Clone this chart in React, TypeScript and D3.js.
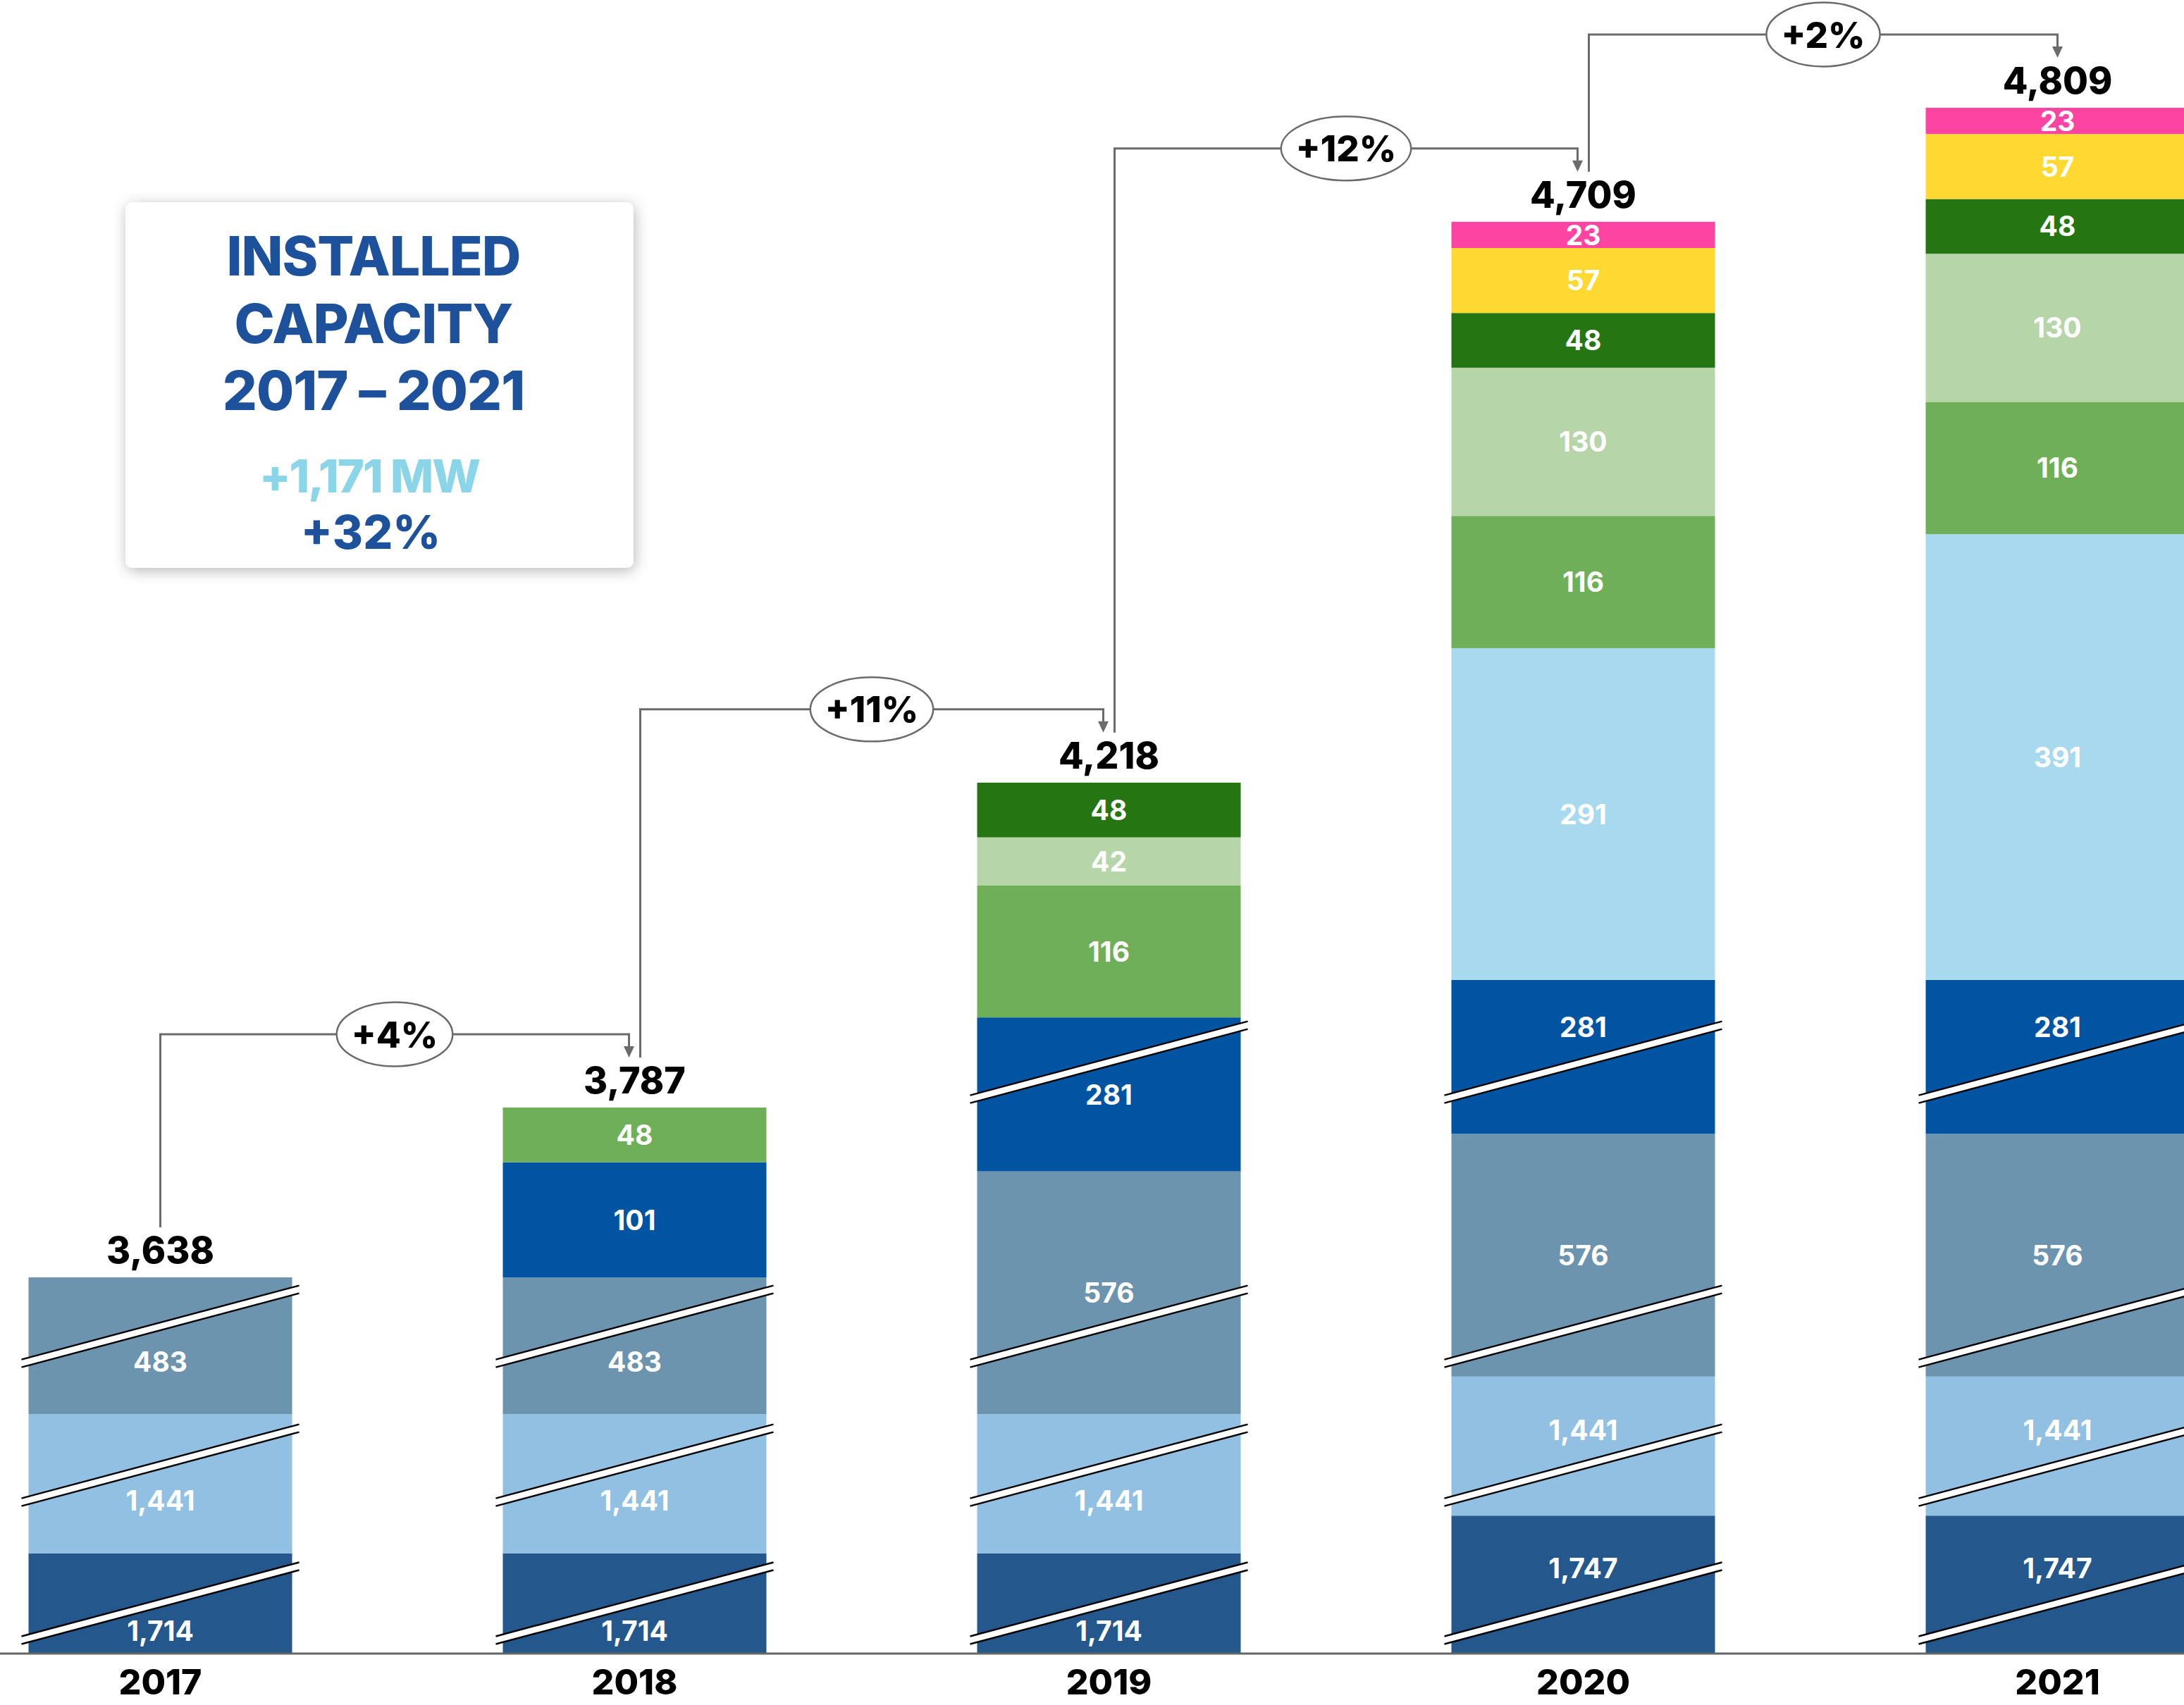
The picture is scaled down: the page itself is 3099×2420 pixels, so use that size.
import React from 'react';
import * as d3 from 'd3';

// ---------------- DATA ----------------
const YEARS = ['2017', '2018', '2019', '2020', '2021'];
const TOTAL_LABELS = ['3,638', '3,787', '4,218', '4,709', '4,809'];
const GROWTH_LABELS = ['+4%', '+11%', '+12%', '+2%'];

// stacked series, bottom to top (MW)
const SERIES_KEYS = ['s1', 's2', 's3', 's4', 's5', 's6', 's7', 's8', 's9', 's10'];
const S1_VALUES = [1714, 1714, 1714, 1747, 1747];
const S2_VALUES = [1441, 1441, 1441, 1441, 1441];
const S3_VALUES = [483, 483, 576, 576, 576];
const S4_VALUES = [0, 101, 281, 281, 281];
const S5_VALUES = [0, 0, 0, 291, 391];
const S6_VALUES = [0, 48, 116, 116, 116];
const S7_VALUES = [0, 0, 42, 130, 130];
const S8_VALUES = [0, 0, 48, 48, 48];
const S9_VALUES = [0, 0, 0, 57, 57];
const S10_VALUES = [0, 0, 0, 23, 23];

// MW removed from each segment by its axis break (0 = no break)
const S1_CUT = [1626, 1626, 1626, 1626, 1626];
const S2_CUT = [1319, 1319, 1319, 1319, 1319];
const S3_CUT = [363, 363, 363, 363, 363];
const S4_CUT = [0, 0, 146, 146, 146];

// level (on the compressed scale, MW) where each series' break mark sits
const S1_BREAK_LEVEL = 44.2;
const S2_BREAK_LEVEL = 165.3;
const S3_BREAK_LEVEL = 287;
const S4_BREAK_LEVEL = 518.8;

const INFO_TITLE = ['INSTALLED', 'CAPACITY', '2017 – 2021'];
const INFO_DELTA_MW = '+1,171 MW';
const INFO_DELTA_PCT = '+32%';

// ---------------- STYLE ----------------
const COLORS = ['#24578b', '#91c0e2', '#6c94ae', '#0054a1', '#a9d9ee', '#6faf57', '#b6d5a9', '#257612', '#fed932', '#fe44a2'];
const FONT = "Inter, 'Noto Sans', 'DejaVu Sans', sans-serif";
const W = 3099;
const H = 2420;
const BASE_Y = 2347;
const PX_PER_MW = 1.618;

const valuesList = [S1_VALUES, S2_VALUES, S3_VALUES, S4_VALUES, S5_VALUES, S6_VALUES, S7_VALUES, S8_VALUES, S9_VALUES, S10_VALUES];
const zeros = [0, 0, 0, 0, 0];
const cutsList = [S1_CUT, S2_CUT, S3_CUT, S4_CUT, zeros, zeros, zeros, zeros, zeros, zeros];
const breakLevels: (number | null)[] = [S1_BREAK_LEVEL, S2_BREAK_LEVEL, S3_BREAK_LEVEL, S4_BREAK_LEVEL, null, null, null, null, null, null];

let measureCtx: CanvasRenderingContext2D | null = null;
function textWidth(text: string, font: string): number {
  if (!measureCtx) {
    const c = document.createElement('canvas');
    measureCtx = c.getContext('2d');
  }
  if (!measureCtx) return text.length * 30;
  measureCtx.font = font;
  return measureCtx.measureText(text).width;
}

function labelCenter(top: number, bottom: number, lineY: number | null): number {
  const c = (top + bottom) / 2;
  if (lineY == null || Math.abs(c - lineY) >= 40) return c;
  const above = lineY - top;
  const below = bottom - lineY;
  if (below >= 0.9 * above) return Math.min(lineY + 50, bottom - 32);
  return Math.max(lineY - 50, top + 32);
}

export default function App() {
  const x = d3.scaleBand<string>().domain(YEARS).range([40.5, 3106.5]).paddingInner(299 / 673).paddingOuter(0);
  const y = d3.scaleLinear().domain([0, 1400]).range([BASE_Y, BASE_Y - 1400 * PX_PER_MW]);
  const bw = x.bandwidth();

  // compressed table
  const table = YEARS.map((yr, i) => {
    const row: any = { year: yr };
    SERIES_KEYS.forEach((k, si) => {
      row[k] = valuesList[si][i] - cutsList[si][i];
    });
    return row;
  });
  const stack = d3.stack<any>().keys(SERIES_KEYS);
  const stacked = stack(table);

  const tops = YEARS.map((_, i) => y(stacked[stacked.length - 1][i][1]));
  const centers = YEARS.map((yr) => (x(yr) as number) + bw / 2);

  const segLabelFs = 39;
  const segEls: React.ReactNode[] = [];
  const breakEls: React.ReactNode[] = [];
  const labelEls: React.ReactNode[] = [];

  stacked.forEach((layer, si) => {
    layer.forEach((d, i) => {
      const v = valuesList[si][i];
      if (!v) return;
      const x0 = x(YEARS[i]) as number;
      const top = y(d[1]);
      const bottom = y(d[0]);
      segEls.push(
        <rect key={`r${si}-${i}`} x={x0} y={top} width={bw} height={bottom - top} fill={COLORS[si]} />
      );
      let lineY: number | null = null;
      if (cutsList[si][i] > 0 && breakLevels[si] != null) {
        lineY = y(breakLevels[si] as number);
        const xl = x0 - 10;
        const xr = x0 + bw + 10;
        const dy = 52.5;
        const half = 5.5;
        const yl = lineY + dy;
        const yr = lineY - dy;
        breakEls.push(
          <g key={`b${si}-${i}`}>
            <polygon points={`${xl},${yl - half} ${xr},${yr - half} ${xr},${yr + half} ${xl},${yl + half}`} fill="#ffffff" />
            <line x1={xl} y1={yl - half} x2={xr} y2={yr - half} stroke="#000" strokeWidth={2.4} />
            <line x1={xl} y1={yl + half} x2={xr} y2={yr + half} stroke="#000" strokeWidth={2.4} />
          </g>
        );
      }
      const cy = labelCenter(top, bottom, lineY);
      labelEls.push(
        <text key={`t${si}-${i}`} x={x0 + bw / 2} y={cy + 0.364 * segLabelFs} textAnchor="middle" fill="#ffffff"
          fontFamily={FONT} fontWeight={700} fontSize={segLabelFs}>
          {d3.format(',')(v)}
        </text>
      );
    });
  });

  // connectors
  const pctFs = 51;
  const n = YEARS.length;
  const connEls = GROWTH_LABELS.map((lab, i) => {
    const src = i;
    const dst = i + 1;
    const sx = centers[src] + (src > 0 ? 8 : 0);
    const dx = centers[dst] - (dst < n - 1 ? 8 : 0);
    const sy = tops[src] - 71;
    const tip = tops[dst] - 71;
    const hy = tops[dst] - 104;
    const mx = (sx + dx) / 2;
    const tw = textWidth(lab, `800 ${pctFs}px ${FONT}`);
    const rx = tw / 2 + 21;
    return (
      <g key={`c${i}`}>
        <path d={`M${sx},${sy} V${hy} H${dx} V${tip - 15}`} fill="none" stroke="#6b6b6b" strokeWidth={3} />
        <polygon points={`${dx - 7.5},${tip - 16} ${dx + 7.5},${tip - 16} ${dx},${tip}`} fill="#6b6b6b" />
        <ellipse cx={mx} cy={hy} rx={rx} ry={45.5} fill="#ffffff" stroke="#6b6b6b" strokeWidth={2.5} />
        <text x={mx} y={hy + 0.364 * pctFs} textAnchor="middle" fontFamily={FONT} fontWeight={800} fontSize={pctFs} fill="#000">
          {lab}
        </text>
      </g>
    );
  });

  const totalEls = YEARS.map((yr, i) => (
    <text key={`tot${i}`} x={centers[i]} y={tops[i] - 20} textAnchor="middle" fontFamily={FONT} fontWeight={800} fontSize={52} fill="#000">
      {TOTAL_LABELS[i]}
    </text>
  ));

  const yearEls = YEARS.map((yr, i) => (
    <text key={`yr${i}`} x={centers[i]} y={2405} textAnchor="middle" fontFamily={FONT} fontWeight={800} fontSize={50} fill="#000">
      {yr}
    </text>
  ));

  const boxX = 178, boxY = 287, boxW = 721, boxH = 519;
  const boxCx = 530;

  return (
    <svg width={W} height={H} viewBox={`0 0 ${W} ${H}`} style={{ position: 'absolute', left: 0, top: 0, background: '#fff' }}>
      <defs>
        <filter id="shadow" x="-10%" y="-10%" width="120%" height="120%">
          <feDropShadow dx={2} dy={4} stdDeviation={10} floodColor="#000" floodOpacity={0.28} />
        </filter>
      </defs>
      <rect x={0} y={0} width={W} height={H} fill="#fff" />
      <g>{segEls}</g>
      <g>{breakEls}</g>
      <g>{labelEls}</g>
      <line x1={0} x2={W} y1={BASE_Y} y2={BASE_Y} stroke="#666" strokeWidth={3} />
      <g>{connEls}</g>
      <g>{totalEls}</g>
      <g>{yearEls}</g>
      <g>
        <rect x={boxX} y={boxY} width={boxW} height={boxH} rx={10} fill="#fff" filter="url(#shadow)" />
        {INFO_TITLE.map((t, i) => (
          <text key={`it${i}`} x={boxCx} y={391 + i * 95.5} textAnchor="middle" fontFamily={FONT} fontWeight={800}
            fontSize={77} letterSpacing={-1} fill="#1d519b">{t}</text>
        ))}
        <text x={boxCx - 6} y={699} textAnchor="middle" fontFamily={FONT} fontWeight={800} fontSize={65} letterSpacing={-2} fill="#8ad5e7">
          {INFO_DELTA_MW}
        </text>
        <text x={boxCx - 4} y={779} textAnchor="middle" fontFamily={FONT} fontWeight={800} fontSize={66} fill="#1d519b">
          {INFO_DELTA_PCT}
        </text>
      </g>
    </svg>
  );
}
